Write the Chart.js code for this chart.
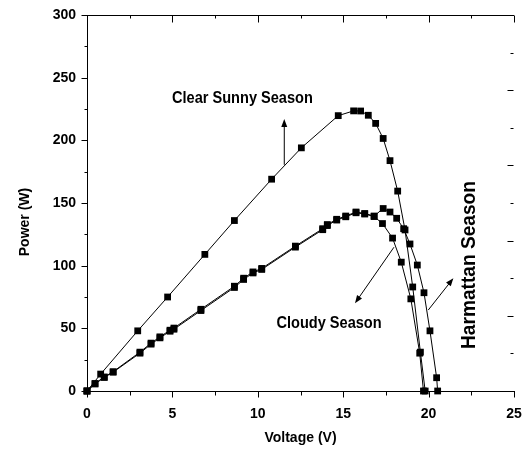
<!DOCTYPE html>
<html>
<head>
<meta charset="utf-8">
<script src="https://cdn.jsdelivr.net/npm/chart.js@4"></script>
<style>
  html, body { margin: 0; padding: 0; background: #fff; }
  #wrap { width: 530px; height: 459px; position: relative; }
</style>
</head>
<body>
<div id="wrap"><canvas id="pv"></canvas></div>
<script>
// Module power (W) against voltage (V) for three seasons
const sunnyV = [0, 0.8, 2.97, 4.72, 6.9, 8.63, 10.81, 12.55, 14.71, 15.61, 16.02, 16.47, 16.9, 17.34, 17.74, 18.19, 18.62, 19.07, 19.52, 19.8];
const sunnyP = [0, 13.5, 48, 75, 109, 136, 169, 194, 219.7, 223.5, 223.4, 220, 213.5, 201.5, 183.8, 159.5, 128.5, 83, 31, 0];

const harmattanV = [0, 0.47, 1.01, 1.53, 3.1, 3.75, 4.27, 4.86, 5.09, 6.67, 8.63, 9.17, 9.72, 10.23, 12.2, 13.8, 14.07, 14.62, 15.15, 15.75, 16.26, 16.81, 17.34, 17.74, 18.13, 18.54, 18.91, 19.34, 19.73, 20.08, 20.47, 20.53];
const harmattanP = [0, 6, 11.2, 15.4, 31, 38.2, 43.2, 48.5, 50.2, 65.2, 83.6, 90, 95, 97.8, 115.6, 129.5, 132.8, 137, 139.6, 142.8, 141.6, 139.6, 145.6, 142.8, 137.8, 129.5, 117.3, 100.5, 78.4, 48, 10.6, 0];

const cloudyV = [0, 0.47, 1.01, 1.53, 3.1, 3.75, 4.27, 4.86, 5.09, 6.67, 8.63, 9.17, 9.72, 10.23, 12.2, 13.8, 14.07, 14.62, 15.15, 15.75, 16.26, 16.81, 17.3, 17.89, 18.4, 18.96, 19.48, 19.7];
const cloudyP = [0, 5.6, 10.8, 15.0, 30.2, 37.4, 42.4, 47.7, 49.3, 64.2, 82.6, 89, 94.2, 97, 114.8, 128.7, 132, 136.4, 139, 142.2, 141.2, 139.2, 133.6, 122, 102.8, 73.5, 30.2, 0];

const xTicks = [0, 5, 10, 15, 20, 25];
const yTicks = [0, 50, 100, 150, 200, 250, 300];

function toPoints(vs, ps) {
  return vs.map((v, i) => ({ x: v, y: ps[i] }));
}

const series = [
  { label: 'Clear Sunny Season', v: sunnyV, p: sunnyP },
  { label: 'Harmattan Season', v: harmattanV, p: harmattanP },
  { label: 'Cloudy Season', v: cloudyV, p: cloudyP }
];

const FAMILY = '"Liberation Sans", Arial, sans-serif';

// Inner/outer tick marks, top frame line, season labels and pointer arrows
const decorations = {
  id: 'decorations',
  afterDraw(chart) {
    const { ctx, chartArea: a, scales: { x, y } } = chart;
    ctx.save();
    ctx.strokeStyle = '#000';
    ctx.fillStyle = '#000';
    ctx.lineWidth = 1;

    const seg = (x1, y1, x2, y2) => {
      ctx.beginPath(); ctx.moveTo(x1, y1); ctx.lineTo(x2, y2); ctx.stroke();
    };
    const top = Math.round(a.top) + 0.5;
    const bottom = Math.round(a.bottom) + 0.5;
    const left = Math.round(a.left) + 0.5;
    const right = Math.round(a.right) - 0.5;

    // frame line across the top
    seg(Math.round(a.left), top, Math.round(a.right), top);

    // voltage ticks: outward at the bottom, inward at the top
    for (let v = 0; v <= 25; v += 2.5) {
      const px = Math.round(x.getPixelForValue(v)) + 0.5;
      const major = v % 5 === 0;
      seg(px, bottom, px, bottom + (major ? 6 : 4));
      seg(px, top, px, top + (major ? 7 : 3));
    }
    // power ticks on the left, outward
    for (let p = 0; p <= 300; p += 25) {
      const py = Math.round(y.getPixelForValue(p)) + 0.5;
      const major = p % 50 === 0;
      seg(left - (major ? 6 : 3), py, left, py);
    }
    // inner ticks on the right side
    for (let p = 30; p <= 270; p += 30) {
      const py = Math.round(y.getPixelForValue(p)) + 0.5;
      const major = p % 60 === 0;
      seg(right - (major ? 6 : 3), py, right, py);
    }

    // pointer arrows, in data units
    const arrow = (v1, p1, v2, p2) => {
      const x1 = x.getPixelForValue(v1), y1 = y.getPixelForValue(p1);
      const x2 = x.getPixelForValue(v2), y2 = y.getPixelForValue(p2);
      const ang = Math.atan2(y2 - y1, x2 - x1);
      const hl = 8, hw = 3;
      seg(x1, y1, x2 - Math.cos(ang) * hl * 0.6, y2 - Math.sin(ang) * hl * 0.6);
      ctx.beginPath();
      ctx.moveTo(x2, y2);
      ctx.lineTo(x2 - Math.cos(ang) * hl - Math.sin(ang) * hw, y2 - Math.sin(ang) * hl + Math.cos(ang) * hw);
      ctx.lineTo(x2 - Math.cos(ang) * hl + Math.sin(ang) * hw, y2 - Math.sin(ang) * hl - Math.cos(ang) * hw);
      ctx.closePath();
      ctx.fill();
    };
    arrow(11.55, 180.5, 11.55, 217);
    arrow(17.97, 114.7, 15.69, 70);
    arrow(19.98, 64.6, 21.45, 90);

    // season captions
    const caption = (text, v, p, size, rot) => {
      ctx.save();
      ctx.translate(x.getPixelForValue(v), y.getPixelForValue(p));
      ctx.rotate(rot);
      ctx.scale(0.91, 1);
      ctx.font = 'bold ' + size + 'px ' + FAMILY;
      ctx.textAlign = 'center';
      ctx.textBaseline = 'middle';
      ctx.fillText(text, 0, 0);
      ctx.restore();
    };
    caption('Clear Sunny Season', 9.1, 233, 16, 0);
    caption('Cloudy Season', 14.17, 53.5, 16, 0);
    caption('Harmattan Season', 22.4, 100.5, 21, -Math.PI / 2);

    // vertical axis title
    ctx.save();
    ctx.translate(25, 222);
    ctx.rotate(-Math.PI / 2);
    ctx.font = 'bold 14px ' + FAMILY;
    ctx.textAlign = 'center';
    ctx.textBaseline = 'middle';
    ctx.fillText('Power (W)', 0, 0);
    ctx.restore();

    ctx.restore();
  }
};

new Chart(document.getElementById('pv'), {
  type: 'scatter',
  data: {
    datasets: series.map(s => ({
      label: s.label,
      data: toPoints(s.v, s.p),
      showLine: true,
      borderColor: '#000',
      borderWidth: 1,
      backgroundColor: '#000',
      pointStyle: 'rect',
      pointRadius: 4.8,
      pointHoverRadius: 4.8,
      pointBorderWidth: 0,
      tension: 0,
      clip: false
    }))
  },
  options: {
    responsive: true,
    maintainAspectRatio: false,
    animation: false,
    devicePixelRatio: 1,
    layout: { padding: { top: 15, right: 16, left: 0, bottom: 0 } },
    plugins: { legend: { display: false }, tooltip: { enabled: false } },
    scales: {
      x: {
        type: 'linear',
        min: 0, max: 25,
        afterBuildTicks: s => { s.ticks = xTicks.map(v => ({ value: v })); },
        afterFit: s => { s.height = 68; s.paddingLeft = 0; s.paddingRight = 0; },
        grid: { display: false, drawTicks: false },
        border: { display: true, color: '#000', width: 1 },
        ticks: { color: '#000', font: { family: FAMILY, size: 14, weight: 'bold' }, padding: 15, maxRotation: 0 },
        title: { display: true, text: 'Voltage (V)', color: '#000', font: { family: FAMILY, size: 14, weight: 'bold' }, padding: { top: 0, bottom: 12 } }
      },
      y: {
        type: 'linear',
        min: 0, max: 300,
        afterBuildTicks: s => { s.ticks = yTicks.map(v => ({ value: v })); },
        afterFit: s => { s.width = 87; s.paddingTop = 0; s.paddingBottom = 0; },
        grid: { display: false, drawTicks: false },
        border: { display: true, color: '#000', width: 1 },
        ticks: { color: '#000', font: { family: FAMILY, size: 14, weight: 'bold' }, padding: 11 }
      }
    }
  },
  plugins: [decorations]
});
</script>
</body>
</html>
